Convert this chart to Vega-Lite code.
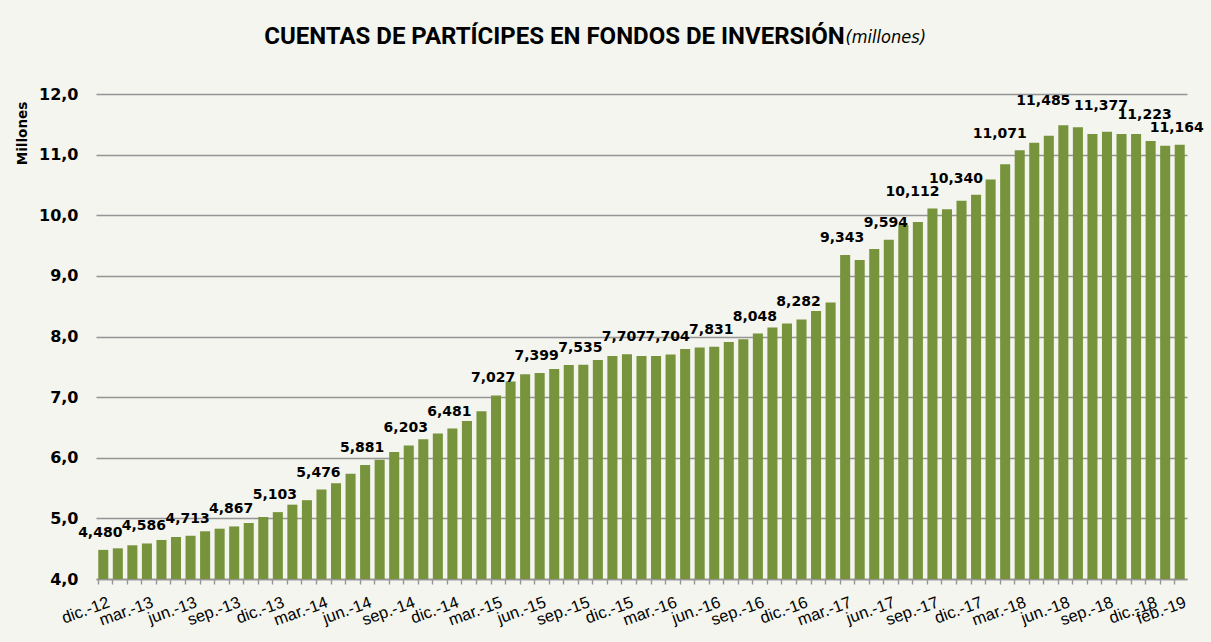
{
  "$schema": "https://vega.github.io/schema/vega-lite/v6.json",
  "width": 1091,
  "height": 485,
  "autosize": {"type": "none"},
  "padding": {"left": 96, "top": 94, "right": 24, "bottom": 63},
  "background": "#f3f5ee",
  "title": {
    "text": "CUENTAS DE PARTÍCIPES EN FONDOS DE INVERSIÓN",
    "anchor": "middle",
    "frame": "group",
    "dx": -87,
    "dy": 50,
    "offset": 10,
    "baseline": "alphabetic",
    "font": "Roboto, DejaVu Sans Condensed, sans-serif",
    "fontSize": 24,
    "fontWeight": "bold",
    "color": "#000000"
  },
  "config": {
    "locale": {"number": {"decimal": ",", "thousands": ".", "grouping": [3], "currency": ["", " €"]}},
    "view": {"stroke": null},
    "text": {"baseline": "bottom", "font": "DejaVu Sans", "fontSize": 14, "fontWeight": "bold", "color": "#000000"}
  },
  "data": {
    "values": [
      {"mes": "dic.-12", "valor": 4.480},
      {"mes": "ene.-13", "valor": 4.506},
      {"mes": "feb.-13", "valor": 4.556},
      {"mes": "mar.-13", "valor": 4.586},
      {"mes": "abr.-13", "valor": 4.644},
      {"mes": "may.-13", "valor": 4.693},
      {"mes": "jun.-13", "valor": 4.713},
      {"mes": "jul.-13", "valor": 4.787},
      {"mes": "ago.-13", "valor": 4.830},
      {"mes": "sep.-13", "valor": 4.867},
      {"mes": "oct.-13", "valor": 4.924},
      {"mes": "nov.-13", "valor": 5.023},
      {"mes": "dic.-13", "valor": 5.103},
      {"mes": "ene.-14", "valor": 5.226},
      {"mes": "feb.-14", "valor": 5.300},
      {"mes": "mar.-14", "valor": 5.476},
      {"mes": "abr.-14", "valor": 5.579},
      {"mes": "may.-14", "valor": 5.738},
      {"mes": "jun.-14", "valor": 5.881},
      {"mes": "jul.-14", "valor": 5.965},
      {"mes": "ago.-14", "valor": 6.096},
      {"mes": "sep.-14", "valor": 6.203},
      {"mes": "oct.-14", "valor": 6.305},
      {"mes": "nov.-14", "valor": 6.398},
      {"mes": "dic.-14", "valor": 6.481},
      {"mes": "ene.-15", "valor": 6.607},
      {"mes": "feb.-15", "valor": 6.767},
      {"mes": "mar.-15", "valor": 7.027},
      {"mes": "abr.-15", "valor": 7.256},
      {"mes": "may.-15", "valor": 7.378},
      {"mes": "jun.-15", "valor": 7.399},
      {"mes": "jul.-15", "valor": 7.465},
      {"mes": "ago.-15", "valor": 7.530},
      {"mes": "sep.-15", "valor": 7.535},
      {"mes": "oct.-15", "valor": 7.614},
      {"mes": "nov.-15", "valor": 7.680},
      {"mes": "dic.-15", "valor": 7.707},
      {"mes": "ene.-16", "valor": 7.680},
      {"mes": "feb.-16", "valor": 7.680},
      {"mes": "mar.-16", "valor": 7.704},
      {"mes": "abr.-16", "valor": 7.795},
      {"mes": "may.-16", "valor": 7.817},
      {"mes": "jun.-16", "valor": 7.831},
      {"mes": "jul.-16", "valor": 7.911},
      {"mes": "ago.-16", "valor": 7.955},
      {"mes": "sep.-16", "valor": 8.048},
      {"mes": "oct.-16", "valor": 8.147},
      {"mes": "nov.-16", "valor": 8.213},
      {"mes": "dic.-16", "valor": 8.282},
      {"mes": "ene.-17", "valor": 8.422},
      {"mes": "feb.-17", "valor": 8.560},
      {"mes": "mar.-17", "valor": 9.343},
      {"mes": "abr.-17", "valor": 9.260},
      {"mes": "may.-17", "valor": 9.445},
      {"mes": "jun.-17", "valor": 9.594},
      {"mes": "jul.-17", "valor": 9.840},
      {"mes": "ago.-17", "valor": 9.890},
      {"mes": "sep.-17", "valor": 10.112},
      {"mes": "oct.-17", "valor": 10.100},
      {"mes": "nov.-17", "valor": 10.238},
      {"mes": "dic.-17", "valor": 10.340},
      {"mes": "ene.-18", "valor": 10.590},
      {"mes": "feb.-18", "valor": 10.843},
      {"mes": "mar.-18", "valor": 11.071},
      {"mes": "abr.-18", "valor": 11.195},
      {"mes": "may.-18", "valor": 11.310},
      {"mes": "jun.-18", "valor": 11.485},
      {"mes": "jul.-18", "valor": 11.450},
      {"mes": "ago.-18", "valor": 11.340},
      {"mes": "sep.-18", "valor": 11.377},
      {"mes": "oct.-18", "valor": 11.340},
      {"mes": "nov.-18", "valor": 11.340},
      {"mes": "dic.-18", "valor": 11.223},
      {"mes": "ene.-19", "valor": 11.145},
      {"mes": "feb.-19", "valor": 11.164}
    ]
  },
  "encoding": {
    "y": {
      "field": "valor",
      "type": "quantitative",
      "scale": {"domain": [4, 12], "zero": false, "nice": false},
      "axis": {
        "values": [4, 5, 6, 7, 8, 9, 10, 11, 12],
        "format": ".1f",
        "grid": true,
        "gridColor": "#959595",
        "gridWidth": 1.4,
        "domain": false,
        "ticks": false,
        "labelPadding": 18,
        "labelFont": "DejaVu Sans",
        "labelFontSize": 16,
        "labelFontWeight": "bold",
        "labelColor": "#000000",
        "title": "Millones",
        "titleFont": "DejaVu Sans",
        "titleFontSize": 13.5,
        "titleFontWeight": "bold",
        "titleColor": "#000000",
        "titleX": -74,
        "titleY": 39,
        "titleAlign": "center",
        "titleBaseline": "middle",
        "titleAngle": -90
      }
    }
  },
  "layer": [
    {
      "mark": {"type": "bar", "color": "#77933c"},
      "encoding": {
        "x": {
          "field": "mes",
          "type": "ordinal",
          "sort": null,
          "scale": {"paddingInner": 0.31, "paddingOuter": 0.155},
          "axis": {
            "orient": "bottom",
            "title": null,
            "bandPosition": 0,
            "labelOffset": 3,
            "domainColor": "#959595",
            "domainWidth": 1.4,
            "tickColor": "#959595",
            "tickWidth": 1.4,
            "tickSize": 5,
            "labelAngle": -20,
            "labelAlign": "right",
            "labelBaseline": "top",
            "labelPadding": 10,
            "labelOverlap": false,
            "labelBound": false,
            "labelFont": "Liberation Sans",
            "labelFontSize": 16.5,
            "labelColor": "#000000",
            "labelExpr": "test(/^(mar|jun|sep|dic)/, datum.value) || datum.value == 'feb.-19' ? datum.value : ''"
          }
        },
        "y2": {"datum": 4}
      }
    },
    {
      "transform": [{"filter": "(test(/^(mar|jun|sep|dic)/, datum.mes) || datum.mes == 'feb.-19') && indexof(['sep.-17', 'dic.-17', 'mar.-18', 'jun.-18', 'sep.-18', 'dic.-18'], datum.mes) < 0"}],
      "mark": {"type": "text", "dx": -3, "dy": -10},
      "encoding": {
        "x": {
          "field": "mes",
          "type": "ordinal",
          "sort": null,
          "axis": {
            "orient": "top",
            "labels": false,
            "ticks": false,
            "domain": false,
            "grid": false,
            "title": "(millones)",
            "titleX": 749,
            "titleY": -52,
            "titleAlign": "left",
            "titleBaseline": "alphabetic",
            "titleAngle": 0,
            "titleFont": "Liberation Sans Narrow, DejaVu Sans Condensed, sans-serif",
            "titleFontSize": 18,
            "titleFontStyle": "italic",
            "titleFontWeight": "normal",
            "titleColor": "#000000"
          }
        },
        "text": {"field": "valor", "type": "quantitative", "format": ".3f"}
      }
    },
    {
      "transform": [{"filter": "indexof(['sep.-17', 'dic.-17', 'mar.-18'], datum.mes) >= 0"}],
      "mark": {"type": "text", "dx": -20, "dy": -9},
      "encoding": {
        "x": {"field": "mes", "type": "ordinal", "sort": null, "axis": null},
        "text": {"field": "valor", "type": "quantitative", "format": ".3f"}
      }
    },
    {
      "transform": [{"filter": "datum.mes == 'jun.-18'"}],
      "mark": {"type": "text", "dx": -20, "dy": -17},
      "encoding": {
        "x": {"field": "mes", "type": "ordinal", "sort": null, "axis": null},
        "text": {"field": "valor", "type": "quantitative", "format": ".3f"}
      }
    },
    {
      "transform": [{"filter": "indexof(['sep.-18', 'dic.-18'], datum.mes) >= 0"}],
      "mark": {"type": "text", "dx": -6, "dy": -19},
      "encoding": {
        "x": {"field": "mes", "type": "ordinal", "sort": null, "axis": null},
        "text": {"field": "valor", "type": "quantitative", "format": ".3f"}
      }
    }
  ],
  "resolve": {"axis": {"x": "independent"}}
}
